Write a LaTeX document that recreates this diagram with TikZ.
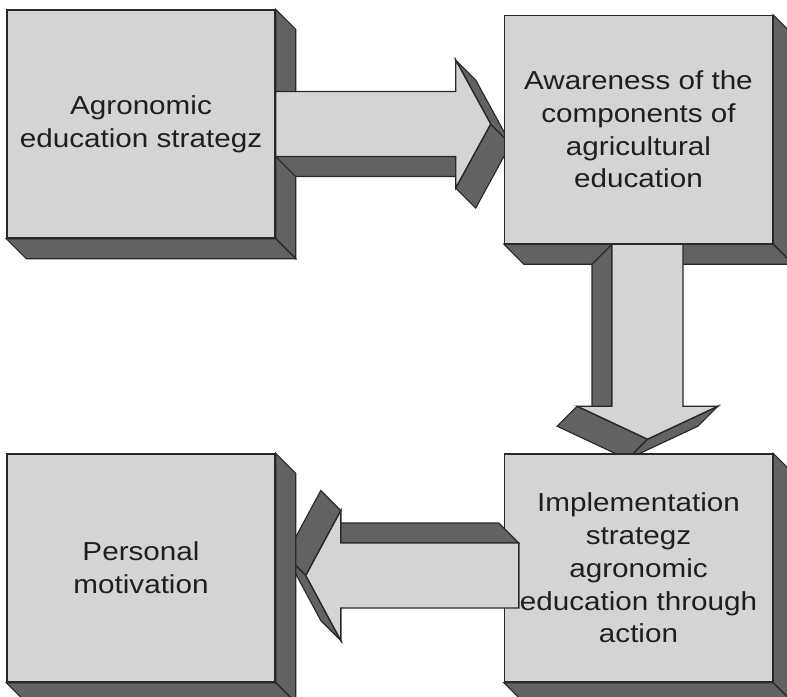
\documentclass[tikz,border=0pt]{standalone}
\usepackage{fontspec}
\setmainfont{Liberation Sans}[FakeStretch=1.14]
\usetikzlibrary{calc}
\definecolor{facegray}{RGB}{212,212,214}
\definecolor{sidegray}{RGB}{98,98,98}
\definecolor{edgegray}{RGB}{40,40,40}

% right and bottom depth faces of a box node
\newcommand{\boxdepth}[1]{%
  \filldraw[side] (#1.north east) -- ++(0.5,-0.5) -- ($(#1.south east)+(0.5,-0.5)$) -- (#1.south east) -- cycle;
  \filldraw[side] (#1.south west) -- ++(0.5,-0.5) -- ($(#1.south east)+(0.5,-0.5)$) -- (#1.south east) -- cycle;}

% 3D block arrow: start, angle, shaft length, shaft half width, head half width, head length
\newcommand{\blockarrow}[6]{%
  \begin{scope}[shift={#1}, rotate=#2]
    \filldraw[side] (0,-#4) -- (#3,-#4) -- ++(0.5,-0.5) -- (0.5,-#4-0.5) -- cycle;
    \filldraw[side] (#3,-#5) -- (#3+#6,0) -- ++(0.5,-0.5) -- (#3+0.5,-#5-0.5) -- cycle;
    \filldraw[side] (#3,#5) -- (#3+#6,0) -- ++(0.5,-0.5) -- (#3+0.5,#5-0.5) -- cycle;
    \filldraw[face] (0,#4) -- (#3,#4) -- (#3,#5) -- (#3+#6,0) -- (#3,-#5) -- (#3,-#4) -- (0,-#4) -- cycle;
  \end{scope}}

\begin{document}
\begin{tikzpicture}[
  blk/.style={rectangle, draw=edgegray, fill=facegray, line width=1pt,
              minimum width=6.7cm, minimum height=5.7cm, inner sep=0pt,
              align=center, text=black!88, font=\fontsize{18.5}{23.3}\selectfont},
  side/.style={draw=edgegray, fill=sidegray, line width=0.8pt},
  face/.style={draw=edgegray, fill=facegray, line width=1pt}
]
\useasboundingbox (0,0) rectangle (19.675,-17.425);

% Strategy box and arrow to awareness
\node[blk] (strat) at (3.525,-3.1) {Agronomic\\education strategz};
\boxdepth{strat}
\blockarrow{(strat.east)}{0}{4.5}{0.8125}{1.6}{0.875}

% Awareness box and arrow down
\node[blk] (aware) at (15.9625,-3.2375) {Awareness of the\\components of\\agricultural\\education};
\boxdepth{aware}
\blockarrow{($(aware.south)+(0.225,0)$)}{-90}{4.05}{0.8875}{1.76}{0.825}

% Implementation box and arrow back to the left
\node[blk] (impl) at (15.9625,-14.2) {Implementation\\strategz\\agronomic\\education through\\action};
\boxdepth{impl}
\blockarrow{($(impl.west)+(0.375,-0.1875)$)}{180}{4.45}{0.8125}{1.625}{0.875}

% Motivation box
\node[blk] (motiv) at (3.525,-14.2) {Personal\\motivation};
\boxdepth{motiv}
\end{tikzpicture}
\end{document}
